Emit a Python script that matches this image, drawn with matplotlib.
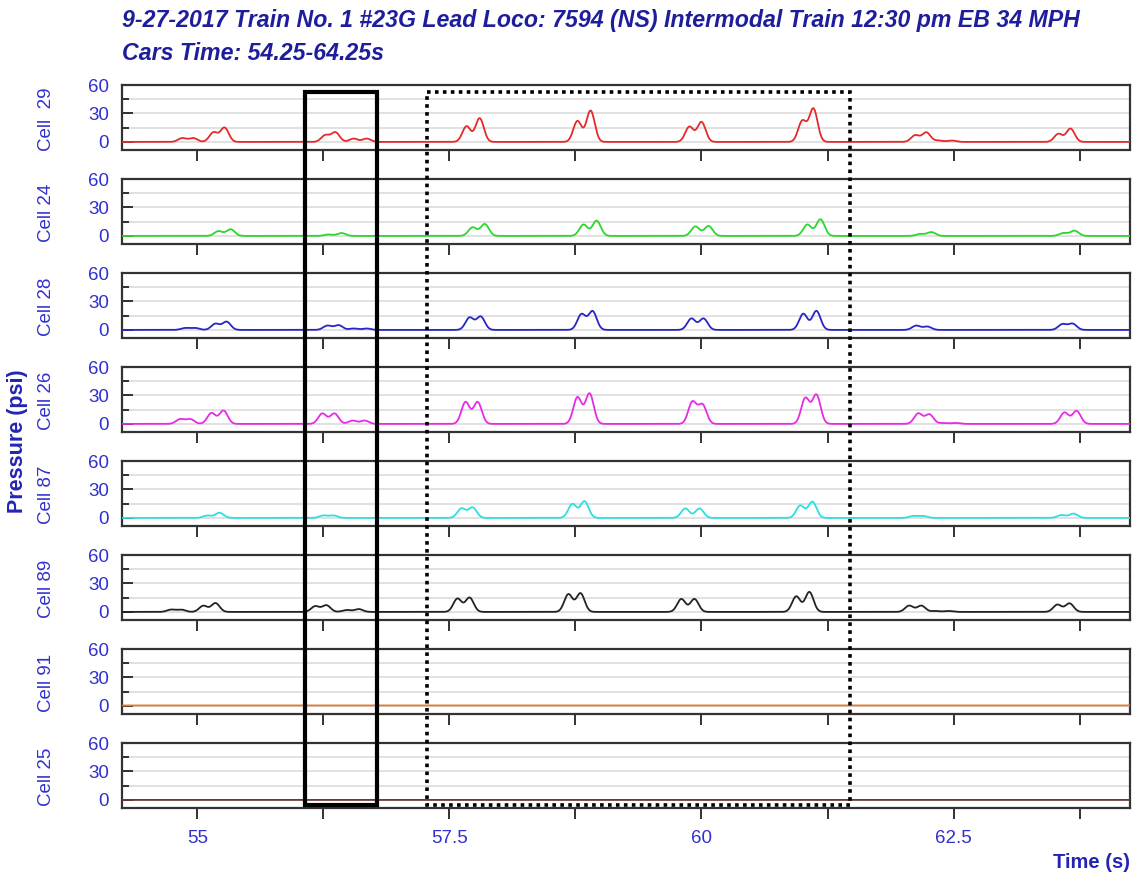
import matplotlib
matplotlib.use("Agg")
import matplotlib.pyplot as plt
import numpy as np
from matplotlib.patches import Rectangle

plt.rcParams['font.family'] = ['Liberation Sans', 'DejaVu Sans']

# ---- data: peak times (s) and peak pressures (psi) per cell ----
cells = ["Cell  29", "Cell 24", "Cell 28", "Cell 26", "Cell 87", "Cell 89", "Cell 91", "Cell 25"]
colors = ["#e42a2a", "#2ad82a", "#2626c8", "#e82ae8", "#2ae0e0", "#222222", "#e07a30", "#6a3a3a"]

t29 = [54.85, 54.96, 55.16, 55.27, 56.27, 56.37, 56.55, 56.68, 57.67, 57.80, 58.77, 58.90,
       59.88, 60.00, 61.00, 61.11, 62.12, 62.23, 62.35, 62.48, 63.54, 63.66]
p29 = [4, 4, 10, 15, 7, 10, 3.5, 3.5, 16.5, 25, 22, 33, 16, 21, 22, 35, 7, 10, 1.5, 1.5, 8.5, 14]

t24 = [55.21, 55.33, 56.30, 56.43, 57.73, 57.85, 58.83, 58.96, 59.94, 60.07, 61.05, 61.18,
       62.17, 62.28, 63.59, 63.70]
p24 = [5, 7, 1.5, 3, 9, 12.5, 12, 16, 10, 10.5, 12, 17.5, 2, 4, 3, 5.5]

t28 = [54.88, 54.98, 55.18, 55.29, 56.29, 56.40, 56.55, 56.68, 57.70, 57.81, 58.81, 58.92,
       59.90, 60.02, 61.01, 61.14, 62.13, 62.24, 63.58, 63.68]
p28 = [2, 2, 6.5, 8.6, 4.5, 5, 1.5, 1.5, 13, 14, 16.5, 19.6, 12, 12, 17, 20, 4.5, 3.5, 6, 6.5]

t26 = [54.83, 54.93, 55.14, 55.26, 56.24, 56.36, 56.54, 56.66, 57.66, 57.78, 58.77, 58.89,
       59.91, 60.01, 61.03, 61.14, 62.15, 62.26, 62.40, 62.52, 63.60, 63.72]
p26 = [5, 5, 11.5, 14, 11, 11, 3.5, 3.5, 23, 23, 28, 32, 23, 20, 27, 30.5, 11, 10, 1, 1, 12, 13.7]

t87 = [55.10, 55.22, 56.25, 56.35, 57.62, 57.73, 58.72, 58.84, 59.84, 59.98, 60.98, 61.10,
       62.10, 62.20, 63.57, 63.69]
p87 = [2.5, 5.4, 2.5, 2.5, 10, 11, 14.6, 17.5, 10, 10, 13, 17, 2, 2, 3, 4.5]

t89 = [54.74, 54.84, 55.06, 55.18, 56.17, 56.28, 56.48, 56.60, 57.58, 57.70, 58.68, 58.80,
       59.80, 59.93, 60.94, 61.07, 62.06, 62.18, 62.32, 62.45, 63.53, 63.65]
p89 = [2.4, 2.4, 6.5, 9.3, 6, 7, 2, 3, 14, 15, 18.6, 19.6, 13.6, 13.6, 16.4, 21, 6.6, 6.6, 1, 1, 7.7, 9]

t91 = []
p91 = []
base91 = 0.5
t25 = []
p25 = []
base25 = 0.0

peak_times = [t29, t24, t28, t26, t87, t89, t91, t25]
peak_psi = [p29, p24, p28, p26, p87, p89, p91, p25]
baselines = [0, 0, 0, 0, 0, 0, base91, base25]

# highlighted windows (s)
solid_box = [56.07, 56.78]
dotted_box = [57.28, 61.47]

x_lo, x_hi = 54.25, 64.25
t = np.linspace(x_lo, x_hi, 4001)
width = 0.041

W, H = 1139, 877
fig = plt.figure(figsize=(W / 100, H / 100), dpi=100)

left_px, right_px = 121.7, 1130
top0, pitch, hgt = 85, 94, 64.5
blue = "#3030d0"
navy = "#1e1e9c"

axes = []
for i in range(8):
    top = top0 + i * pitch
    ax = fig.add_axes([left_px / W, 1 - (top + hgt) / H, (right_px - left_px) / W, hgt / H])
    y = np.full_like(t, baselines[i], dtype=float)
    for tc, pk in zip(peak_times[i], peak_psi[i]):
        y += pk * np.exp(-(t - tc) ** 2 / (2 * width ** 2))
    ax.plot(t, y, color=colors[i], lw=1.3, zorder=3)
    ax.set_xlim(x_lo, x_hi)
    ax.set_ylim(-8, 60)
    ax.set_yticks([0, 30, 60])
    ax.set_yticks([15, 45], minor=True)
    ax.set_xticks([55, 57.5, 60, 62.5])
    ax.set_xticks([56.25, 58.75, 61.25, 63.75], minor=True)
    ax.grid(True, which='both', axis='y', color='#dcdcdc', lw=1.2, zorder=0)
    ax.tick_params(axis='y', which='major', direction='in', length=8, width=1.3,
                   labelsize=13.5, labelcolor=blue, pad=9, color='#222222')
    ax.tick_params(axis='y', which='minor', direction='in', length=5, width=1.3, color='#222222')
    ax.tick_params(axis='x', which='both', direction='out', length=8, width=1.3,
                   color='#222222', labelsize=13.5, labelcolor=blue, pad=8)
    if i < 7:
        ax.tick_params(axis='x', which='both', labelbottom=False)
    ax.set_xticklabels(['55', '57.5', '60', '62.5'])
    for s in ax.spines.values():
        s.set_color('#333333')
        s.set_linewidth(1.6)
    ax.set_ylabel(cells[i], color=blue, fontsize=13.5)
    ax.yaxis.set_label_coords(-0.066, 0.47)
    axes.append(ax)

# overlay for the highlight boxes (y in pixel rows)
ov = fig.add_axes([left_px / W, 0, (right_px - left_px) / W, 1])
ov.set_xlim(x_lo, x_hi)
ov.set_ylim(H, 0)
ov.axis('off')
ov.add_patch(Rectangle((solid_box[0], 91.7), solid_box[1] - solid_box[0], 804.5 - 91.7,
                       fill=False, ec='black', lw=3.0, zorder=10))
ov.add_patch(Rectangle((dotted_box[0], 92.3), dotted_box[1] - dotted_box[0], 804.5 - 92.3,
                       fill=False, ec='black', lw=2.6, ls=(0, (1, 1.2)), zorder=10))

fig.text(122 / W, 1 - 20 / H,
         "9-27-2017 Train No. 1 #23G Lead Loco: 7594 (NS) Intermodal Train 12:30 pm EB 34 MPH",
         color=navy, fontsize=16.7, fontweight='bold', fontstyle='italic', va='center', ha='left')
fig.text(122 / W, 1 - 53 / H, "Cars Time: 54.25-64.25s",
         color=navy, fontsize=16.7, fontweight='bold', fontstyle='italic', va='center', ha='left')
fig.text(18 / W, 1 - 441 / H, "Pressure (psi)", rotation=90, color="#2424b4",
         fontsize=15.5, fontweight='bold', va='center', ha='center')
fig.text(1130 / W, 1 - 862 / H, "Time (s)", color="#2424b4",
         fontsize=14.5, fontweight='bold', va='center', ha='right')

fig.savefig("out.png", dpi=100)
